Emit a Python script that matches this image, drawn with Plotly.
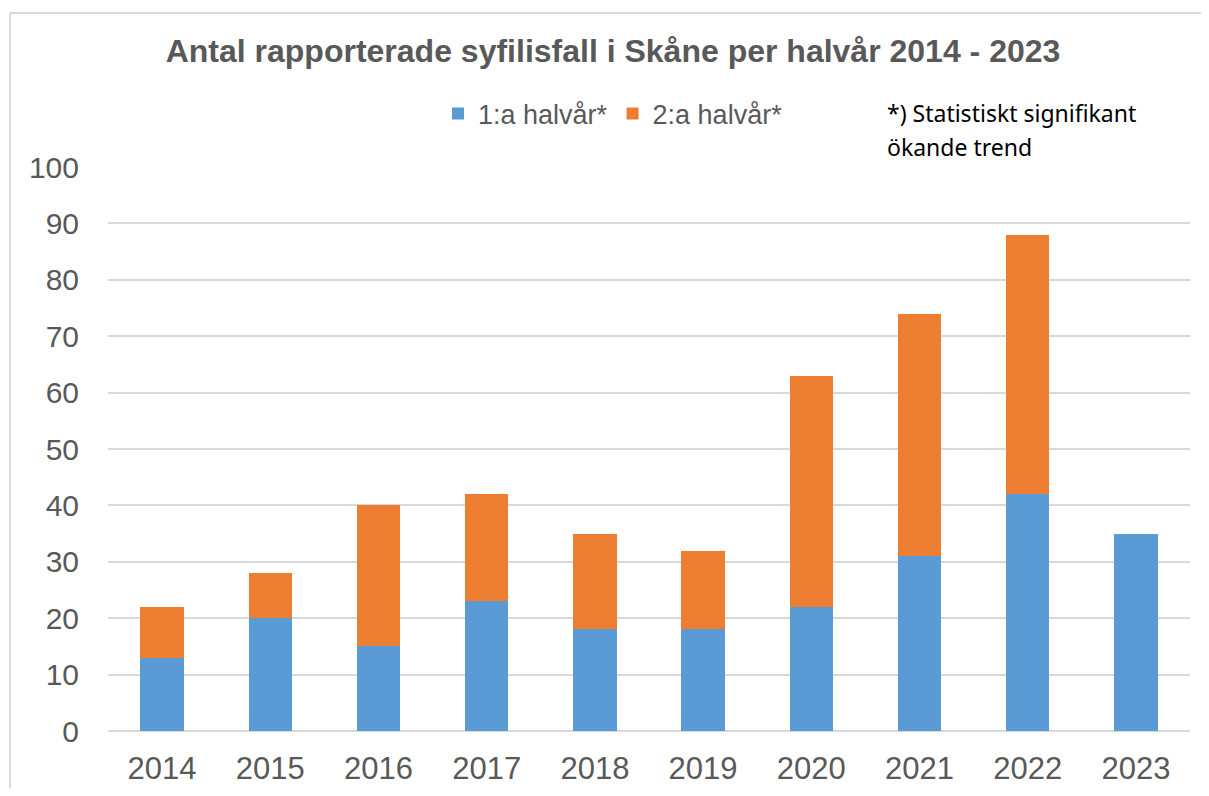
import plotly.graph_objects as go

years = ["2014", "2015", "2016", "2017", "2018", "2019", "2020", "2021", "2022", "2023"]
first_half = [13, 20, 15, 23, 18, 18, 22, 31, 42, 35]
second_half = [9, 8, 25, 19, 17, 14, 41, 43, 46, 0]
series_names = ["1:a halvår*", "2:a halvår*"]
title_text = "Antal rapporterade syfilisfall i Skåne per halvår 2014 - 2023"
note_lines = ["*) Statistiskt signifikant", "ökande trend"]
y_ticks = list(range(0, 101, 10))

OFF = 8  # page body margin offset
W, H = 1209 - 2 * OFF, 796 - 2 * OFF
L, R, T, B = 108 - OFF, 1190 - OFF, 167 - OFF, 731 - OFF  # plot area in pixels

def px_x(x):
    return (x - OFF - L) / (R - L)

def px_y(y):
    return (B - (y - OFF)) / (B - T)

fig = go.Figure()
fig.add_trace(go.Bar(x=years, y=first_half, name=series_names[0],
                     marker=dict(color="#5B9BD5", line=dict(width=0))))
fig.add_trace(go.Bar(x=years, y=second_half, name=series_names[1],
                     marker=dict(color="#ED7D31", line=dict(width=0))))

gray = "#595959"
fig.update_layout(
    width=W, height=H,
    barmode="stack", bargap=0.6,
    plot_bgcolor="white", paper_bgcolor="white",
    margin=dict(l=L, r=W - R, t=T, b=H - B, autoexpand=False),
    font=dict(family="Liberation Sans, Arial, sans-serif", color=gray),
    title=dict(text="<b>" + title_text + "</b>", x=(613 - OFF) / W, xanchor="center",
               y=1 - (51 - OFF) / H, yanchor="middle", xref="container", yref="container",
               font=dict(size=32, color=gray, family="Liberation Sans, Arial, sans-serif")),
    showlegend=True,
    legend=dict(orientation="h", x=px_x(438), xanchor="left", y=px_y(114), yanchor="middle",
                font=dict(size=27, color=gray), bgcolor="rgba(0,0,0,0)",
                itemsizing="constant", traceorder="normal", itemwidth=30),
    xaxis=dict(type="category", showgrid=False, showline=False, zeroline=False,
               tickfont=dict(size=31, color=gray), ticks="", ticklabelstandoff=16),
    yaxis=dict(range=[0, 100], tickvals=y_ticks, showgrid=True, gridcolor="#d9d9d9",
               gridwidth=2, zeroline=True, zerolinecolor="#d9d9d9", zerolinewidth=2,
               showline=False, tickfont=dict(size=30, color=gray), ticks="",
               ticklabelstandoff=28),
)

for i, line in enumerate(note_lines):
    fig.add_annotation(text=line, xref="paper", yref="paper", x=px_x(885), xanchor="left",
                       y=px_y(113 + 34 * i), yanchor="middle", showarrow=False,
                       font=dict(size=23, color="black", family="Noto Sans, sans-serif"))

# chart frame (light gray top and left edges)
frame = dict(color="#d9d9d9", width=2)
fig.add_shape(type="line", xref="paper", yref="paper",
              x0=px_x(10), x1=px_x(1215), y0=px_y(13), y1=px_y(13), line=frame, layer="below")
fig.add_shape(type="line", xref="paper", yref="paper",
              x0=px_x(10), x1=px_x(10), y0=px_y(13), y1=px_y(820), line=frame, layer="below")

fig.write_html("out.html")
